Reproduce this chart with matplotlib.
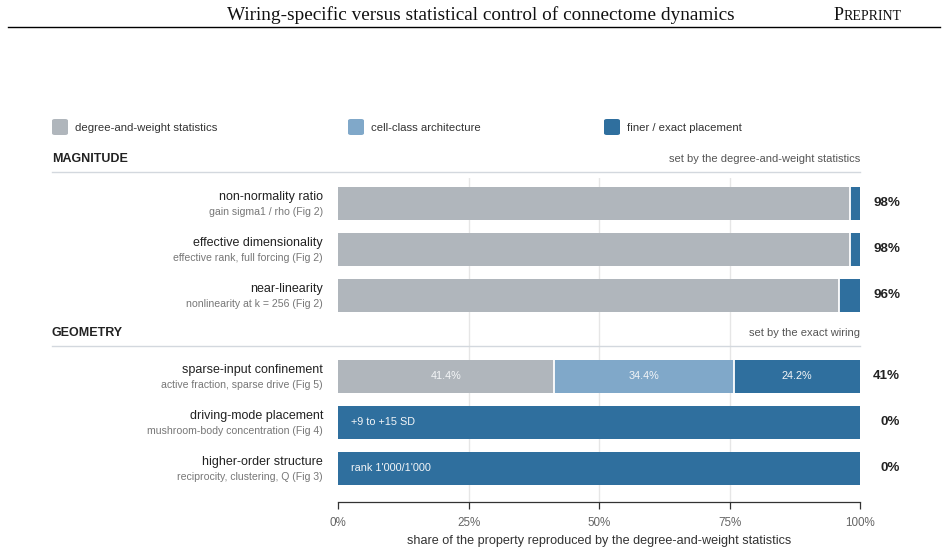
import matplotlib
matplotlib.use("Agg")
import matplotlib.pyplot as plt
import matplotlib.transforms as mtransforms
from matplotlib.patches import FancyBboxPatch
from matplotlib.lines import Line2D

plt.rcParams["font.family"] = ["Liberation Sans", "DejaVu Sans"]

W, H = 948, 551

# --- data ---
sections = ["MAGNITUDE", "GEOMETRY"]
section_notes = ["set by the degree-and-weight statistics", "set by the exact wiring"]
props = ["non-normality ratio", "effective dimensionality", "near-linearity",
         "sparse-input confinement", "driving-mode placement", "higher-order structure"]
subs = ["gain sigma1 / rho (Fig 2)", "effective rank, full forcing (Fig 2)",
        "nonlinearity at k = 256 (Fig 2)", "active fraction, sparse drive (Fig 5)",
        "mushroom-body concentration (Fig 4)", "reciprocity, clustering, Q (Fig 3)"]
stat_share = [98, 98, 96, 41.4, 0, 0]
cell_share = [0, 0, 0, 34.4, 0, 0]
fine_share = [2, 2, 4, 24.2, 100, 100]
right_labels = ["98%", "98%", "96%", "41%", "0%", "0%"]
bar_notes = ["", "", "", "", "+9 to +15 SD", "rank 1'000/1'000"]
legend_names = ["degree-and-weight statistics", "cell-class architecture", "finer / exact placement"]
xticks = [0, 25, 50, 75, 100]

C_STAT, C_CELL, C_FINE = "#b0b6bc", "#80a8c9", "#2f6f9e"
colors = [C_STAT, C_CELL, C_FINE]

def fx(px):
    return px / W

def fy(py):
    return 1 - py / H

fig = plt.figure(figsize=(W / 100, H / 100), dpi=100)

# running header
fig.text(fx(481), fy(15), "Wiring-specific versus statistical control of connectome dynamics",
         family="Liberation Serif", fontsize=13.9, ha="center", va="center", color="#111")
fig.text(fx(834), fy(15.5), "P", family="Liberation Serif", fontsize=13, ha="left", va="center", color="#111")
fig.text(fx(843.5), fy(16.5), "REPRINT", family="Liberation Serif", fontsize=10, ha="left", va="center", color="#111")
fig.add_artist(Line2D([fx(8), fx(940)], [fy(27), fy(27)], color="black", lw=1.0))

# legend
for name, c, x0 in zip(legend_names, colors, [52, 348, 604]):
    fig.add_artist(FancyBboxPatch((fx(x0), fy(135)), fx(16), 16 / H,
                                  boxstyle="round,pad=0,rounding_size=0.003",
                                  transform=fig.transFigure, fc=c, ec="none"))
    fig.text(fx(x0 + 23), fy(128), name, fontsize=8.2, va="center", color="#333")

# main axes
ax = fig.add_axes([fx(338), fy(502), 522 / W, (502 - 178) / H])
ypos = [0, 1, 2, 3.76, 4.76, 5.76]
ax.set_xlim(0, 100)
ax.set_ylim(6.49, -0.554)
for t in xticks[1:-1]:
    ax.axvline(t, color="#e6e6e6", lw=1, zorder=0)

h = 0.73
left = [0] * len(props)
for vals, c in zip([stat_share, cell_share, fine_share], colors):
    for i, (y, v) in enumerate(zip(ypos, vals)):
        if v > 0:
            ax.barh(y, v, left=left[i], height=h, color=c, edgecolor="none", zorder=2)
            if left[i] > 0:
                ax.plot([left[i], left[i]], [y - h / 2, y + h / 2], color="white",
                        lw=1.3, zorder=3, solid_capstyle="butt")
    left = [l + v for l, v in zip(left, vals)]

# segment values on the mixed row
i = 3
acc = 0
for vals in [stat_share, cell_share, fine_share]:
    v = vals[i]
    ax.text(acc + v / 2, ypos[i], f"{v:.1f}%", ha="center", va="center",
            fontsize=7.8, color="#f4f6f8", zorder=4)
    acc += v
for y, note in zip(ypos, bar_notes):
    if note:
        ax.text(2.5, y, note, ha="left", va="center", fontsize=7.8, color="#f4f6f8", zorder=4)

blend = mtransforms.blended_transform_factory(fig.transFigure, ax.transData)
for y, p, s, r in zip(ypos, props, subs, right_labels):
    ax.text(fx(323), y - 0.14, p, transform=blend, ha="right", va="center",
            fontsize=9.0, color="#222", clip_on=False)
    ax.text(fx(323), y + 0.19, s, transform=blend, ha="right", va="center",
            fontsize=7.6, color="#777", clip_on=False)
    ax.text(fx(900), y, r, transform=blend, ha="right", va="center",
            fontsize=9.6, fontweight="bold", color="#222", clip_on=False)

# section headers
for name, note, yh, yl in zip(sections, section_notes, [159, 333], [172, 346]):
    fig.text(fx(52), fy(yh), name, fontsize=9, fontweight="bold", va="center", color="#222")
    fig.text(fx(860), fy(yh), note, fontsize=8.0, ha="right", va="center", color="#555")
    fig.add_artist(Line2D([fx(52), fx(860)], [fy(yl), fy(yl)], color="#d3d8de", lw=1.0))

for sp in ["top", "right", "left"]:
    ax.spines[sp].set_visible(False)
ax.spines["bottom"].set_color("#333")
ax.spines["bottom"].set_linewidth(0.9)
ax.set_yticks([])
ax.set_xticks(xticks)
ax.set_xticklabels([f"{t}%" for t in xticks])
ax.tick_params(axis="x", length=5, width=0.9, color="#333", labelsize=8.4,
               labelcolor="#666", pad=6)
ax.set_xlabel("share of the property reproduced by the degree-and-weight statistics",
              fontsize=9.1, color="#333", labelpad=4)

fig.savefig("out.png", dpi=100)
